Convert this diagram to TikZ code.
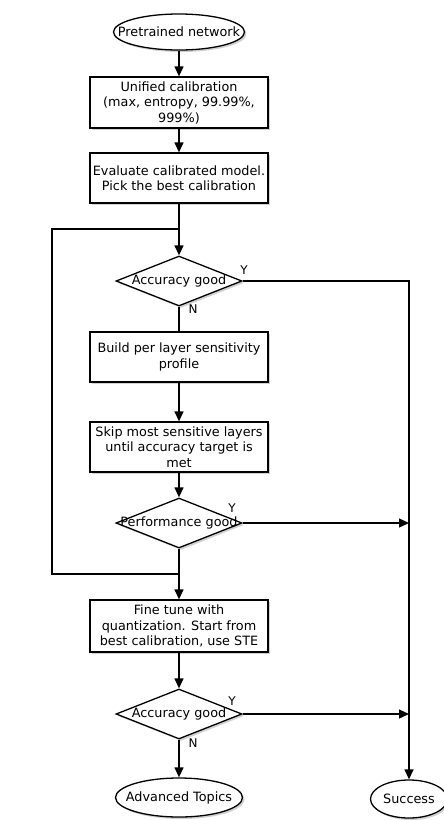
\documentclass[tikz,border=0pt]{standalone}
\usepackage{fontspec}
\setmainfont{DejaVu Sans}
\usetikzlibrary{shapes.geometric, arrows.meta, shadows}

\begin{document}
\begin{tikzpicture}[x=1pt, y=1pt, >={Triangle[length=10pt,width=9pt]},
  font=\fontsize{12.8}{15.5}\selectfont,
  shade/.style={drop shadow={shadow xshift=2pt, shadow yshift=-2pt, fill=gray!60, opacity=.6}},
  proc/.style={draw, line width=1.3pt, fill=white, shade, minimum width=178pt,
    minimum height=51pt, inner sep=1pt, align=center},
  term/.style={ellipse, draw, line width=1.3pt, fill=white, shade, inner sep=0pt},
  decide/.style={diamond, draw, line width=1.3pt, fill=white, shade, inner sep=0pt,
    minimum width=126pt, minimum height=50pt},
  flow/.style={line width=1.3pt},
  yn/.style={font=\fontsize{12}{13}\selectfont, inner sep=0pt}]
  \useasboundingbox (0,0) rectangle (444,-820);
  % terminals and boxes
  \node[term, minimum width=131pt, minimum height=36pt, label=center:{Pretrained network}] (start) at (179,-32) {};
  \node[proc] (calib) at (179,-102.5) {Unified calibration\\(max, entropy, 99.99\%,\\999\%)};
  \node[proc, minimum height=50pt] (eval) at (179,-178) {Evaluate calibrated model.\\Pick the best calibration};
  \node[decide, label=center:{Accuracy good}] (acc1) at (179,-281) {};
  \node[proc, minimum height=50pt] (sens) at (179,-357) {Build per layer sensitivity\\profile};
  \node[proc, minimum height=50pt] (skip) at (179,-447) {Skip most sensitive layers\\until accuracy target is\\met};
  \node[decide, label=center:{Performance good}] (perf) at (179,-523) {};
  \node[proc, minimum height=52pt] (fine) at (179,-626) {Fine tune with\\quantization. Start from\\best calibration, use STE};
  \node[decide, label=center:{Accuracy good}] (acc2) at (179,-714) {};
  \node[term, minimum width=127pt, minimum height=39pt, label=center:{Advanced Topics}] (adv) at (179,-797.5) {};
  \node[term, minimum width=77pt, minimum height=38pt, label=center:{Success}] (succ) at (409,-799) {};
  % Y / N marks
  \node[yn] (y1) at (244,-270) {Y};
  \node[yn] (n1) at (193,-309) {N};
  \node[yn] (y2) at (232,-508) {Y};
  \node[yn] (y3) at (232,-701) {Y};
  \node[yn] (n3) at (193,-743) {N};
  % junctions
  \coordinate (loopin) at (179,-229);
  \coordinate (loopout) at (179,-574);
  \coordinate (loopleft) at (52,-229);
  \coordinate (rail) at (409,-281);
  \coordinate (railp) at (409,-523);
  \coordinate (raila) at (409,-714);
  % main flow
  \draw[flow,->] (start) -- (calib);
  \draw[flow,->] (calib) -- (eval);
  \draw[flow,->] (eval) -- (acc1);
  \draw[flow] (acc1) -- (sens);
  \draw[flow,->] (sens) -- (skip);
  \draw[flow,->] (skip) -- (perf);
  \draw[flow,->] (perf) -- (fine);
  \draw[flow,->] (fine) -- (acc2);
  \draw[flow,->] (acc2) -- (adv);
  % loop back
  \draw[flow] (loopout) -| (loopleft) -- (loopin);
  % yes branches
  \draw[flow,->] (acc1.east) -- (rail) -- (succ);
  \draw[flow,->] (perf.east) -- (railp);
  \draw[flow,->] (acc2.east) -- (raila);
\end{tikzpicture}
\end{document}
